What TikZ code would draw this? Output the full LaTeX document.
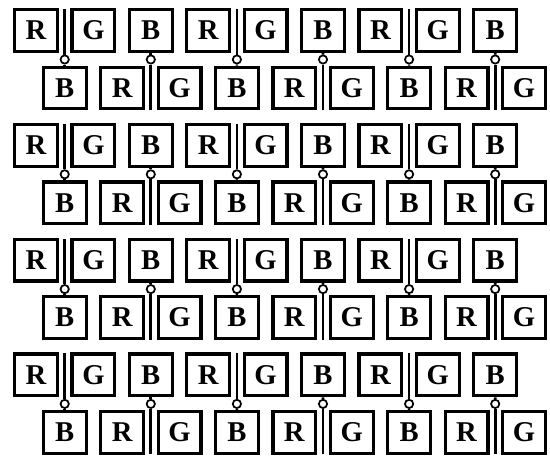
\documentclass[tikz,border=0pt]{standalone}
\usepackage{fontspec}
\setmainfont{Liberation Serif}
\usetikzlibrary{positioning,calc}
\tikzset{
  px/cell/.style={draw, line width=2.4pt, minimum width=32.1pt, minimum height=31.3pt, inner sep=0pt, font=\fontsize{21.5}{21.5}\selectfont\bfseries},
  px/via/.style={draw, circle, fill=white, line width=1.3pt, minimum size=6.2pt, inner sep=0pt},
  px/bus/.style={line width=2pt}
}

\begin{document}
\begin{tikzpicture}[x=0.75pt, y=-0.75pt]
  \useasboundingbox (0,0) rectangle (550,461);
  \foreach \g in {0,...,3}{
    \pgfmathsetmacro{\yup}{30.5+114.8*\g}
    \pgfmathsetmacro{\ydn}{88+114.8*\g}
    % two rows of cells, the lower one shifted by half a cell
    \foreach \i/\up/\dn in {0/R/B,1/G/R,2/B/G,3/R/B,4/G/R,5/B/G,6/R/B,7/G/R,8/B/G}{
      \node[px/cell] (up-\g-\i) at ({36+57.4*\i},\yup) {\up};
      \node[px/cell] (dn-\g-\i) at ({64.7+57.4*\i},\ydn) {\dn};
    }
    % vias: one on each blue cell, with its bus line
    \foreach \k in {0,1,2}{
      \pgfmathtruncatemacro{\a}{3*\k}
      \pgfmathtruncatemacro{\b}{3*\k+2}
      \node[px/via] (va-\g-\k) at ({64.7+172.2*\k},{59.5+114.8*\g}) {};
      \node[px/via] (vb-\g-\k) at ({150.8+172.2*\k},{59.5+114.8*\g}) {};
      \coordinate (ta-\g-\k) at ({64.7+172.2*\k},{9+114.8*\g});
      \coordinate (tb-\g-\k) at ({150.8+172.2*\k},{110+114.8*\g});
      \draw[px/bus] (va-\g-\k) -- (dn-\g-\a.north);
      \draw[px/bus] (va-\g-\k) -- (ta-\g-\k);
      \draw[px/bus] (vb-\g-\k) -- (up-\g-\b.south);
      \draw[px/bus] (vb-\g-\k) -- (tb-\g-\k);
    }
  }
\end{tikzpicture}
\end{document}
